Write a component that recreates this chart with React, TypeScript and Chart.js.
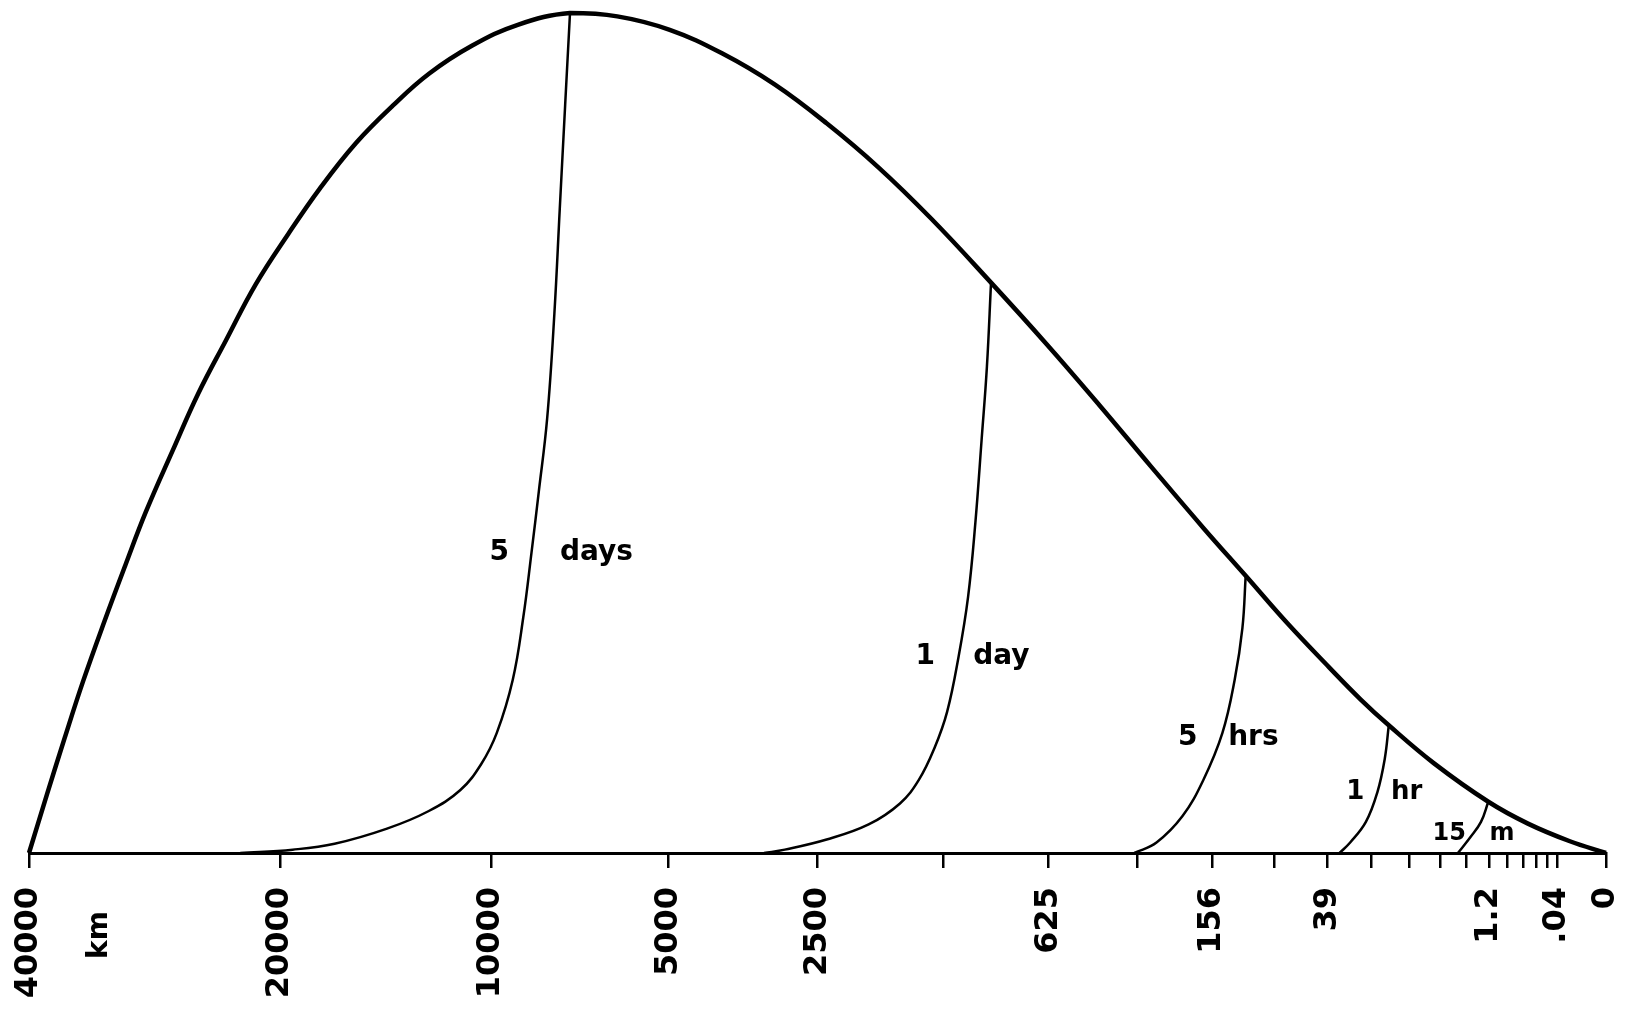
import React, { useEffect, useRef } from 'react';
import { Chart, LinearScale, registerables } from 'chart.js';

// Horizontal axis: wavelength in km (axis is linear in the fourth root of the wavelength)
const TICK_KM = [40000, 20000, 10000, 5000, 2500, 1250, 625, 312.5, 156.25, 78.1, 39.06, 19.53, 9.77, 4.88, 2.44, 1.22, 0.61, 0.305, 0.153, 0.076, 0.038, 0];
const TICK_LABELS = ['40000', '20000', '10000', '5000', '2500', '', '625', '', '156', '', '39', '', '', '', '', '1.2', '', '', '', '', '.04', '0'];

// Basic energy spectrum (envelope)
const ENVELOPE_KM = [40000, 38200, 36500, 34800, 32900, 31100, 29400, 27300, 25400, 23500, 21500, 19500, 17700, 15800, 14000, 12400, 10700, 9070, 7450, 6180, 4970, 3950, 3090, 2390, 1810, 1340, 925, 634, 428, 277, 170, 109, 67, 38, 23.5, 14.4, 5.7, 1.24, 0.24, 0.011, 0];
const ENVELOPE_E = [0, 7.0, 13.7, 20.4, 27.5, 34.2, 40.6, 47.9, 54.7, 60.9, 67.7, 73.7, 79.1, 84.5, 89.0, 92.8, 96.1, 98.6, 100, 99.6, 98.0, 95.2, 91.5, 86.9, 81.6, 75.5, 67.9, 60.6, 53.4, 46.0, 38.7, 33.0, 27.4, 22.1, 18.3, 15.2, 10.7, 6.1, 3.5, 1.4, 0];

// Error spectra
const DAYS5_KM = [7450, 7590, 7750, 7910, 8130, 8390, 8620, 8890, 9240, 9790, 10350, 11140, 12420, 14280, 16900, 19240, 22500];
const DAYS5_E = [100, 89.1, 76.6, 64.2, 51.7, 43.0, 35.8, 28.0, 20.6, 14.3, 10.6, 7.5, 5.0, 2.9, 1.1, 0.4, 0];

const DAY1_KM = [925, 950, 983, 1023, 1071, 1136, 1219, 1315, 1442, 1607, 1912, 2386, 2941, 3250];
const DAY1_E = [67.9, 57.9, 49.2, 39.3, 30.5, 23.4, 16.8, 12.5, 8.7, 5.9, 3.4, 1.6, 0.4, 0];

const HRS5_KM = [109, 113, 123, 140, 170, 208, 264, 320];
const HRS5_E = [33.0, 26.8, 20.6, 14.3, 8.7, 4.4, 1.25, 0];

const HR1_KM = [14.4, 15.5, 17.7, 21.5, 27.7, 32.6];
const HR1_E = [15.2, 11.2, 7.2, 3.7, 1.25, 0];

const MIN15_KM = [1.24, 1.58, 2.18, 3.11];
const MIN15_E = [6.1, 3.7, 1.9, 0];

// Curve labels (anchored in data units)
const CURVE_LABEL_TEXT = ['5', 'days', '1', 'day', '5', 'hrs', '1', 'hr', '15', 'm'];
const CURVE_LABEL_KM = [9700, 6720, 1390, 864, 198, 100, 25.6, 10.2, 3.9, 0.76];
const CURVE_LABEL_E = [35.7, 35.8, 23.4, 23.4, 13.7, 13.7, 7.2, 7.2, 2.3, 2.3];
const UNIT_LABEL = 'km';
const UNIT_LABEL_KM = 33300;

class FourthRootScale extends LinearScale {
  static id = 'fourthRoot';
  static defaults = {};
  _r0: number = 0;
  _r1: number = 1;
  buildTicks() {
    return TICK_KM.map((v) => ({ value: v }));
  }
  configure() {
    super.configure();
    this._r0 = Math.pow(Math.max(this.min, 0), 0.25);
    this._r1 = Math.pow(Math.max(this.max, 1e-9), 0.25);
  }
  getPixelForValue(value: number) {
    const r = Math.pow(Math.max(value, 0), 0.25);
    return this.getPixelForDecimal((r - this._r0) / (this._r1 - this._r0));
  }
  getValueForPixel(pixel: number) {
    const d = this.getDecimalForPixel(pixel);
    return Math.pow(this._r0 + d * (this._r1 - this._r0), 4);
  }
}

Chart.register(...registerables, FourthRootScale);

const zip = (xs: number[], ys: number[]) => xs.map((x, i) => ({ x, y: ys[i] }));

const labelPlugin = {
  id: 'curveLabels',
  afterDatasetsDraw(chart: any) {
    const { ctx, scales, chartArea } = chart;
    const xs = scales.x;
    const ys = scales.y;
    ctx.save();
    ctx.fillStyle = '#000';
    ctx.textAlign = 'center';
    ctx.textBaseline = 'middle';
    CURVE_LABEL_TEXT.forEach((t, i) => {
      const size = i >= 8 ? 24 : i >= 6 ? 26 : 28;
      ctx.font = `bold ${size}px "DejaVu Sans"`;
      ctx.fillText(t, xs.getPixelForValue(CURVE_LABEL_KM[i]), ys.getPixelForValue(CURVE_LABEL_E[i]));
    });
    // unit label, rotated like the tick labels
    ctx.translate(xs.getPixelForValue(UNIT_LABEL_KM), chartArea.bottom + 82);
    ctx.rotate(-Math.PI / 2);
    ctx.font = 'bold 28px "DejaVu Sans"';
    ctx.fillText(UNIT_LABEL, 0, 0);
    ctx.restore();
  },
};

export default function App() {
  const ref = useRef<HTMLCanvasElement>(null);
  useEffect(() => {
    document.body.style.margin = '0';
    const lineStyle = (w: number) => ({
      borderColor: '#000',
      borderWidth: w,
      pointRadius: 0,
      pointHoverRadius: 0,
      tension: 0.4,
      fill: false,
      clip: false as any,
    });
    const chart = new Chart(ref.current as HTMLCanvasElement, {
      type: 'line',
      data: {
        datasets: [
          { label: 'energy', data: zip(ENVELOPE_KM, ENVELOPE_E), ...lineStyle(4.5) },
          { label: '5 days', data: zip(DAYS5_KM, DAYS5_E), ...lineStyle(2.5) },
          { label: '1 day', data: zip(DAY1_KM, DAY1_E), ...lineStyle(2.5) },
          { label: '5 hrs', data: zip(HRS5_KM, HRS5_E), ...lineStyle(2.5) },
          { label: '1 hr', data: zip(HR1_KM, HR1_E), ...lineStyle(2.5) },
          { label: '15 m', data: zip(MIN15_KM, MIN15_E), ...lineStyle(2.5) },
        ] as any,
      },
      options: {
        responsive: false,
        animation: false,
        devicePixelRatio: 1,
        events: [],
        layout: { padding: { left: 29, right: 35, top: 13, bottom: 15 } },
        plugins: { legend: { display: false }, tooltip: { enabled: false } },
        scales: {
          x: {
            type: 'fourthRoot' as any,
            min: 0,
            max: 40000,
            reverse: true,
            border: { display: true, color: '#000', width: 3 },
            grid: { display: true, drawOnChartArea: false, drawTicks: true, tickLength: 15, lineWidth: 2.5, color: '#000' },
            ticks: {
              autoSkip: false,
              minRotation: 90,
              maxRotation: 90,
              padding: 19,
              color: '#000',
              font: { family: 'DejaVu Sans', size: 32, weight: 'bold' },
              callback: (_v: any, i: number) => TICK_LABELS[i],
            },
            afterFit: (scale: any) => {
              scale.height = 146;
              scale.paddingLeft = 0;
              scale.paddingRight = 0;
              scale.paddingTop = 0;
              scale.paddingBottom = 0;
            },
          } as any,
          y: { type: 'linear', min: 0, max: 100, display: false },
        },
      },
      plugins: [labelPlugin],
    });
    return () => chart.destroy();
  }, []);
  return (
    <div style={{ position: 'absolute', left: 0, top: 0, width: 1641, height: 1014, background: '#fff' }}>
      <canvas ref={ref} width={1641} height={1014} style={{ display: 'block', width: 1641, height: 1014 }} />
    </div>
  );
}
